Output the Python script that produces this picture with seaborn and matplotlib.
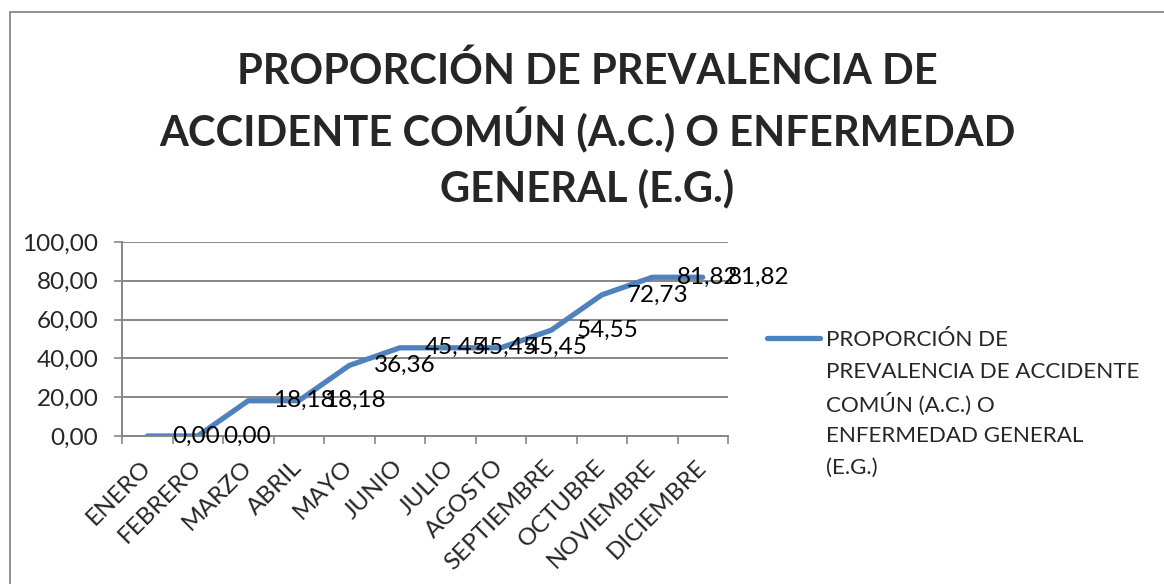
import matplotlib
matplotlib.use("Agg")
import matplotlib.pyplot as plt
from matplotlib.ticker import FixedLocator, FuncFormatter, NullFormatter
from matplotlib.patches import Rectangle
from matplotlib.lines import Line2D
import seaborn as sns
import pandas as pd

meses = ["ENERO", "FEBRERO", "MARZO", "ABRIL", "MAYO", "JUNIO", "JULIO",
         "AGOSTO", "SEPTIEMBRE", "OCTUBRE", "NOVIEMBRE", "DICIEMBRE"]
proporcion = [0.00, 0.00, 18.18, 18.18, 36.36, 45.45, 45.45, 45.45,
              54.55, 72.73, 81.82, 81.82]
titulo = ["PROPORCIÓN DE PREVALENCIA DE",
          "ACCIDENTE COMÚN (A.C.) O ENFERMEDAD",
          "GENERAL (E.G.)"]
serie = ["PROPORCIÓN DE", "PREVALENCIA DE ACCIDENTE", "COMÚN (A.C.) O",
         "ENFERMEDAD GENERAL", "(E.G.)"]

sns.set_style("white")
plt.rcParams["font.family"] = ["Lato", "DejaVu Sans"]

GRIS = "#868686"
AZUL = "#4F81BD"
FS = 17.5

df = pd.DataFrame({"mes": meses, "valor": proporcion})

fig = plt.figure(figsize=(11.64, 5.84), dpi=100)
W, H = 1164, 584
ax = fig.add_axes([122 / W, 1 - 436 / H, (728 - 122) / W, (436 - 242) / H])

sns.lineplot(data=df, x="mes", y="valor", sort=False, ax=ax, color=AZUL,
             linewidth=3.8, legend=False, solid_joinstyle="miter")

ax.set_xlim(-0.5, len(meses) - 0.5)
ax.set_ylim(0, 100)
ax.set_xlabel("")
ax.set_ylabel("")

# y axis
ax.yaxis.set_major_locator(FixedLocator([0, 20, 40, 60, 80, 100]))
ax.yaxis.set_major_formatter(FuncFormatter(lambda v, p: f"{v:.2f}".replace(".", ",")))
ax.grid(axis="y", color=GRIS, linewidth=1.4)
ax.grid(axis="x", visible=False)
ax.tick_params(axis="y", which="major", left=True, length=6, width=1.2,
               color=GRIS, labelsize=FS, pad=11)

# x axis: labels at category centres, tick marks at category boundaries
ax.set_xticks(range(len(meses)))
ax.set_xticklabels(meses, rotation=45, ha="right", va="center",
                   rotation_mode="anchor", fontsize=FS)
ax.xaxis.set_minor_locator(FixedLocator([i - 0.5 for i in range(len(meses) + 1)]))
ax.xaxis.set_minor_formatter(NullFormatter())
ax.tick_params(axis="x", which="major", bottom=True, length=0, pad=20)
ax.tick_params(axis="x", which="minor", bottom=True, length=6, width=1.2,
               color=GRIS)

for side in ["top", "right"]:
    ax.spines[side].set_visible(False)
for side in ["left", "bottom"]:
    ax.spines[side].set_color(GRIS)
    ax.spines[side].set_linewidth(1.4)

# data labels to the right of each point
for i, v in enumerate(proporcion):
    ax.annotate(f"{v:.2f}".replace(".", ","), (i, v), xytext=(25, 0),
                textcoords="offset pixels", ha="left", va="center",
                fontsize=FS, color="black", annotation_clip=False)

# legend entry: line key plus wrapped series name, evenly spaced lines
fig.add_artist(Line2D([767 / W, 820 / W], [1 - 338 / H, 1 - 338 / H],
                      transform=fig.transFigure, color=AZUL, linewidth=3.8,
                      solid_capstyle="round"))
for k, linea in enumerate(serie):
    fig.text(826 / W, 1 - (338 + 32 * k) / H, linea, ha="left",
             va="center_baseline", fontsize=FS * 0.92)

# title, three centred lines
for k, linea in enumerate(titulo):
    fig.text(587 / W, 1 - (68 + 58.5 * k) / H, linea, ha="center",
             va="center_baseline", fontsize=30, fontweight="bold")

# chart area border
fig.add_artist(Rectangle((10 / W, -0.1), 1.2, (1 - 12 / H) + 0.1,
                         transform=fig.transFigure, fill=False,
                         edgecolor="#7f7f7f", linewidth=1.2))

fig.savefig("out.png", dpi=100)
